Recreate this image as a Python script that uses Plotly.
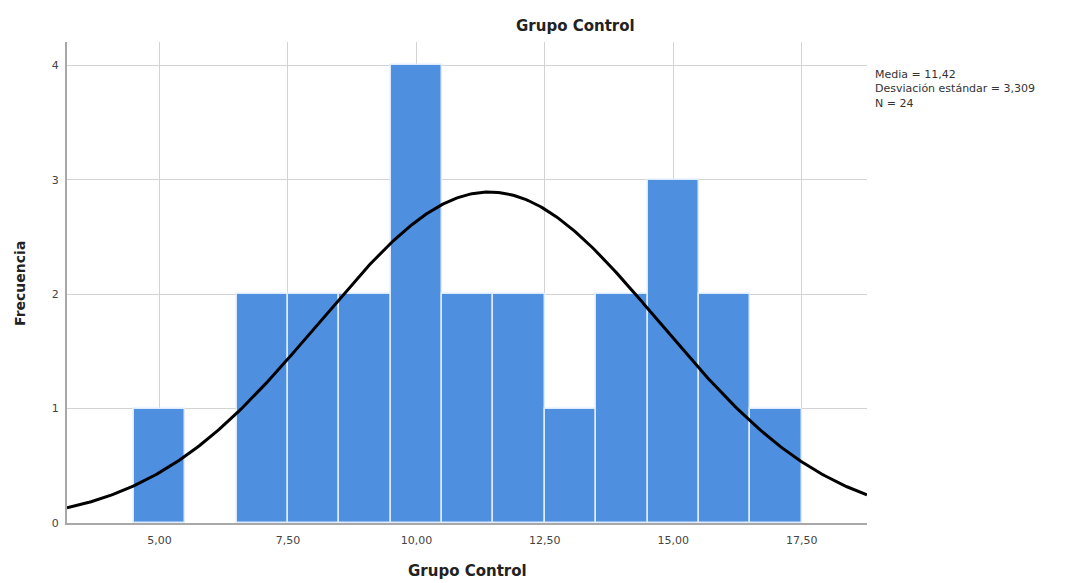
import numpy as np
import plotly.graph_objects as go

# Data
bin_centers = [5, 6, 7, 8, 9, 10, 11, 12, 13, 14, 15, 16, 17]
counts = [1, 0, 2, 2, 2, 4, 2, 2, 1, 2, 3, 2, 1]
mean = 11.42
sd = 3.309
n = 24
x_ticks = [5.0, 7.5, 10.0, 12.5, 15.0, 17.5]
x_tick_labels = ["5,00", "7,50", "10,00", "12,50", "15,00", "17,50"]
y_ticks = [0, 1, 2, 3, 4]

x_range = [3.2, 18.77]
xs = np.linspace(x_range[0], x_range[1], 400)
ys = n * 1.0 / (sd * np.sqrt(2 * np.pi)) * np.exp(-0.5 * ((xs - mean) / sd) ** 2)

bx = [c for c, v in zip(bin_centers, counts) if v > 0]
by = [v for v in counts if v > 0]

FONT = "DejaVu Sans, Verdana, sans-serif"
L, R, T, B = 67, 867, 42, 523
PW, PH = R - L, B - T


def px(xpix):
    return (xpix - L) / PW


def py(ypix):
    return (B - ypix) / PH


fig = go.Figure()
fig.add_trace(go.Bar(
    x=bx, y=by, width=1,
    marker=dict(color="#4F8FE0", line=dict(color="#DDEBFF", width=1.5)),
    hoverinfo="skip", showlegend=False,
))
fig.add_trace(go.Scatter(
    x=xs, y=ys, mode="lines",
    line=dict(color="black", width=3),
    hoverinfo="skip", showlegend=False,
))

fig.update_layout(
    width=1070, height=583,
    margin=dict(l=L, r=1070 - R, t=T, b=583 - B, autoexpand=False),
    paper_bgcolor="white", plot_bgcolor="white",
    font=dict(family=FONT, color="#333333"),
    bargap=0,
    annotations=[
        dict(text="<b>Grupo Control</b>", x=px(575), y=py(26),
             xref="paper", yref="paper", xanchor="center", yanchor="middle",
             showarrow=False, font=dict(size=15, color="#222222", family=FONT)),
        dict(text="<b>Grupo Control</b>", x=px(467), y=py(571),
             xref="paper", yref="paper", xanchor="center", yanchor="middle",
             showarrow=False, font=dict(size=15, color="#222222", family=FONT)),
        dict(text="<b>Frecuencia</b>", x=px(20), y=py(284), textangle=-90,
             xref="paper", yref="paper", xanchor="center", yanchor="middle",
             showarrow=False, font=dict(size=14, color="#222222", family=FONT)),
        dict(text="Media = 11,42<br>Desviación estándar = 3,309<br>N = 24",
             x=px(873), y=py(66), xref="paper", yref="paper",
             xanchor="left", yanchor="top",
             align="left", showarrow=False, font=dict(size=11, color="#333333", family=FONT)),
    ],
)

fig.update_xaxes(
    range=x_range, tickvals=x_ticks, ticktext=x_tick_labels,
    showgrid=True, gridcolor="#D3D3D3", gridwidth=1,
    showline=True, linecolor="#A8A8A8", linewidth=2,
    ticks="", tickfont=dict(size=11, color="#444444", family=FONT),
    ticklabelstandoff=6,
    automargin=False, zeroline=False,
)
fig.update_yaxes(
    range=[0, 4.205], tickvals=y_ticks,
    showgrid=True, gridcolor="#D3D3D3", gridwidth=1,
    showline=True, linecolor="#A8A8A8", linewidth=2,
    ticks="", tickfont=dict(size=11, color="#444444", family=FONT),
    ticklabelstandoff=4,
    automargin=False, zeroline=False,
)

fig.write_html("out.html")
